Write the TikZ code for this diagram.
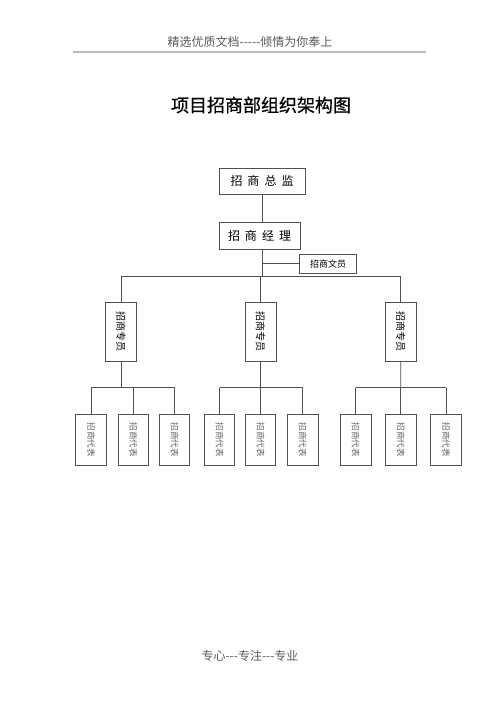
\documentclass[tikz,border=0pt]{standalone}
\usepackage{fontspec}
\usetikzlibrary{calc}
\newfontfamily\cjk{Noto Sans CJK SC}
\newfontfamily\cjktitle[FakeBold=0.8]{Noto Sans CJK SC}
\definecolor{linegray}{RGB}{80,80,80}
\definecolor{textgray}{RGB}{90,90,90}
\definecolor{rulegray}{RGB}{185,185,185}
\definecolor{repgray}{RGB}{100,100,100}

\begin{document}
\begin{tikzpicture}[x=1pt,y=-1pt,
    conn/.style={draw=linegray,line width=0.9pt},
    topbox/.style={draw=linegray,line width=0.9pt,inner sep=0pt,font=\cjk\fontsize{12}{14}\selectfont},
    specbox/.style={draw=linegray,line width=0.9pt,inner sep=0pt,minimum width=31pt,minimum height=59pt,font=\cjk\fontsize{10}{12}\selectfont},
    repbox/.style={draw=linegray,line width=0.9pt,inner sep=0pt,minimum width=30.5pt,minimum height=51pt,text=repgray,font=\cjk\fontsize{8.5}{10}\selectfont}]
    \useasboundingbox (0,0) rectangle (500,708);

    % Page header and title
    \node[textgray,font=\cjk\fontsize{12}{14}\selectfont] (head) at (250,42) {精选优质文档-----倾情为你奉上};
    \draw[rulegray,line width=1.5pt] (73,52) -- (426,52);
    \node[font=\cjktitle\fontsize{18}{20}\selectfont] (title) at (261,105) {项目招商部组织架构图};

    % Top of the chart
    \node[topbox,minimum width=86pt,minimum height=26pt] (dir) at (262,181.3) {招\hspace{5pt}商\hspace{5pt}总\hspace{5pt}监};
    \node[topbox,minimum width=81pt,minimum height=27pt] (mgr) at (259.5,236) {招\hspace{5pt}商\hspace{5pt}经\hspace{5pt}理};
    \node[topbox,minimum width=57pt,minimum height=19.5pt,font=\cjk\fontsize{9}{11}\selectfont] (clerk) at (328,263.7) {招商文员};
    \coordinate (hub) at (262,276);
    \draw[conn] (dir.south -| hub) -- (mgr.north -| hub);
    \draw[conn] (mgr.south -| hub) -- (hub);
    \draw[conn] (clerk.west -| hub) -- (clerk.west);

    % Specialists
    \foreach \i/\x in {1/121,2/260.5,3/400.7}
        \node[specbox] (s\i) at (\x,331.5) {\rotatebox{-90}{招商专员}};
    \draw[conn] (hub -| s1.north) -- (hub -| s3.north);
    \foreach \i in {1,2,3}
        \draw[conn] (hub -| s\i.north) -- (s\i.north);

    % Representatives
    \foreach \n/\x in {11/91,12/133.3,13/174.5,21/219.5,22/260.5,23/302.7,31/355.7,32/400.8,33/446}
        \node[repbox] (r\n) at (\x,439.5) {\rotatebox{-90}{招商代表}};
    \foreach \i in {1,2,3} {
        \coordinate (m\i) at ($(s\i.south)!0.5!(s\i.south |- r\i1.north)$);
        \draw[conn] (s\i.south) -- (m\i);
        \draw[conn] (m\i -| r\i1.north) -- (m\i -| r\i3.north);
        \foreach \j in {1,2,3}
            \draw[conn] (m\i -| r\i\j.north) -- (r\i\j.north);
    }

    % Footer
    \node[textgray,font=\cjk\fontsize{12}{14}\selectfont] (foot) at (250,656) {专心---专注---专业};
\end{tikzpicture}
\end{document}
